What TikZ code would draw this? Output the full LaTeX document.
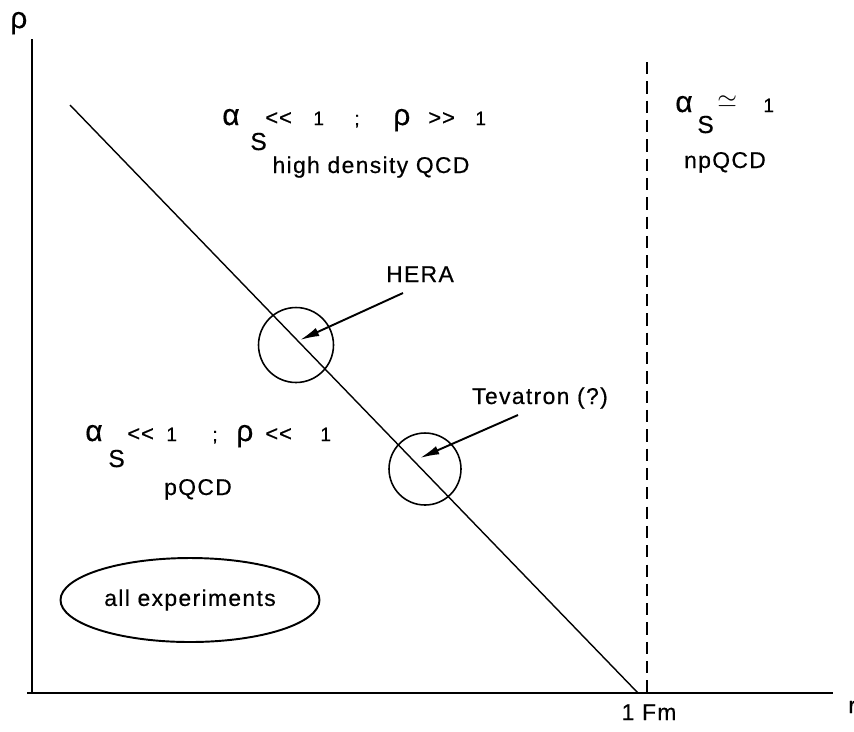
\documentclass[tikz,border=0pt]{standalone}
\usepackage{fontspec}
\setmainfont{Liberation Sans}[LetterSpace=6,FakeBold=0.5]
\usetikzlibrary{arrows.meta,shapes.geometric}

\newlength{\px}
\setlength{\px}{0.02cm}
\newcommand{\pc}[2]{\makebox[#1\px][l]{#2}}
\newcommand{\gk}{\fontsize{17}{20}\selectfont}
\newcommand{\sm}{\fontsize{11}{13}\selectfont}
\newcommand{\lowS}[1]{\raisebox{-#1\px}{\fontsize{14}{16}\selectfont S}}
\newcommand{\muchless}{{\fontsize{12.5}{14}\selectfont<\kern0.5pt<}}
\newcommand{\muchmore}{{\fontsize{12.5}{14}\selectfont>\kern0.5pt>}}

\begin{document}
\begin{tikzpicture}[x=0.02cm, y=-0.02cm,
    lbl/.style={font=\fontsize{13}{15}\selectfont, inner sep=0pt, anchor=base},
    formula/.style={inner sep=0pt, anchor=base west},
    ring/.style={circle, draw, line width=0.9pt, minimum size=1.44cm, inner sep=0pt},
    arr/.style={-{Latex[length=11pt,width=5pt]}, line width=1.1pt}]
    \useasboundingbox (0,0) rectangle (854,731);

    % axes
    \coordinate (ytop) at (32,39);
    \coordinate (orig) at (32,693);
    \coordinate (xl) at (27,693);
    \coordinate (xr) at (833,693);
    \draw[line width=1pt] (ytop) -- (orig);
    \draw[line width=1.6pt] (xl) -- (xr);
    \node[lbl, anchor=base west, font=\gk] (rho) at (10,28) {ρ};
    \node[lbl, anchor=base west] (rlab) at (848,713) {r};

    % 1 Fm
    \coordinate (fmtop) at (647,62);
    \coordinate (fmfoot) at (647,693);
    \draw[dash pattern=on 7pt off 4pt, line width=0.9pt] (fmtop) -- (fmfoot);
    \node[lbl] (fmlab) at (649,720) {1 Fm};

    % diagonal
    \coordinate (dtop) at (70,105);
    \coordinate (dfoot) at (638,693);
    \draw[line width=0.8pt] (dtop) -- (dfoot);

    % regions
    \node[formula] (hif) at (222,125) {\pc{28}{\gk α}\pc{15}{\lowS{25}}\pc{48}{\muchless}\pc{41}{\sm 1}\pc{39}{\sm ;}\pc{35}{\gk ρ}\pc{47}{\muchmore}{\sm 1}};
    \node[lbl] (hi) at (371,173) {high density QCD};
    \node[formula] (npf) at (675,112) {\pc{22}{\gk α}\pc{20}{\lowS{21}}\pc{46}{\raisebox{5\px}{\fontsize{14}{16}\selectfont$\simeq$}}{\sm 1}};
    \node[lbl] (np) at (725,168) {npQCD};
    \node[formula] (pf) at (85,441) {\pc{23}{\gk α}\pc{19}{\lowS{26}}\pc{39}{\muchless}\pc{46}{\sm 1}\pc{24}{\sm ;}\pc{29}{\gk ρ}\pc{55}{\muchless}{\sm 1}};
    \node[lbl] (p) at (198,495) {pQCD};
    \node[ellipse, draw, line width=1.1pt, minimum width=5cm, minimum height=1.68cm, font=\fontsize{13}{15}\selectfont] (allexp) at (190,600) {all experiments};

    % experiments
    \node[ring, minimum size=1.5cm] (hera) at (296,345) {};
    \node[ring] (tev) at (425,469) {};
    \node[lbl] (heralab) at (420,282) {HERA};
    \node[lbl] (tevlab) at (540,404) {Tevatron (?)};
    \coordinate (herafrom) at (403,293);
    \coordinate (herato) at (300,340);
    \coordinate (tevfrom) at (518,415);
    \coordinate (tevto) at (420,458);
    \draw[arr] (herafrom) -- (herato);
    \draw[arr] (tevfrom) -- (tevto);
\end{tikzpicture}
\end{document}
